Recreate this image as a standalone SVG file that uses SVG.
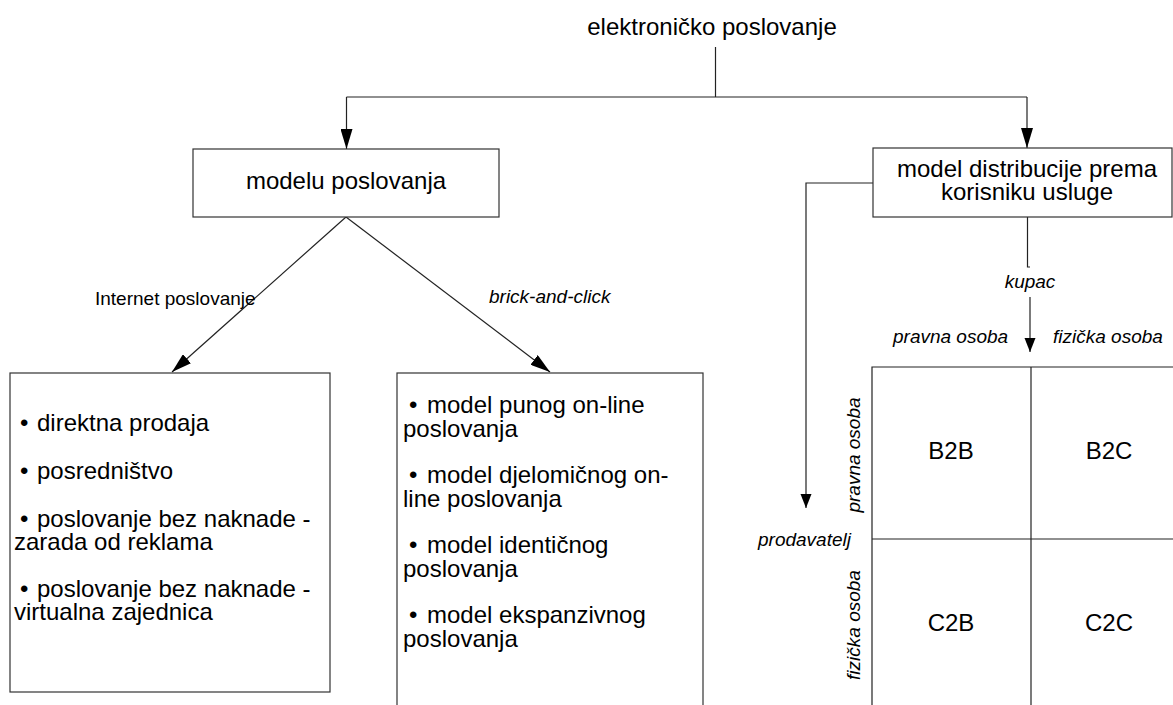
<svg xmlns="http://www.w3.org/2000/svg" width="1173" height="705" viewBox="0 0 1173 705">
  <style>
    text { font-family: "Liberation Sans", Arial, sans-serif; fill: #000; }
    .main { font-size: 24px; }
    .lbl { font-size: 19px; }
    .it { font-size: 19px; font-style: italic; }
    .mid { text-anchor: middle; }
    .box { fill: #fff; stroke: #333; stroke-width: 1.2; }
    .ln { fill: none; stroke: #222; stroke-width: 1.2; }
  </style>
  <defs>
    <marker id="arrow" markerUnits="userSpaceOnUse" markerWidth="20" markerHeight="12" refX="20" refY="6" orient="auto">
      <path d="M0,0 L20,6 L0,12 z" fill="#000"/>
    </marker>
    <marker id="arrowSmall" markerUnits="userSpaceOnUse" markerWidth="14" markerHeight="12" refX="14" refY="6" orient="auto">
      <path d="M0,0.5 L14,6 L0,11.5 z" fill="#000"/>
    </marker>
  </defs>

  <rect width="1173" height="705" fill="#fff"/>

  <!-- connectors -->
  <g id="connectors">
    <path class="ln" d="M715.5,47 V97"/>
    <path class="ln" d="M346.5,97 H1027"/>
    <path class="ln" d="M346.5,97 V149" marker-end="url(#arrow)"/>
    <path class="ln" d="M1027,97 V148" marker-end="url(#arrow)"/>
    <path class="ln" d="M346,217 L172,372" marker-end="url(#arrow)"/>
    <path class="ln" d="M346,217 L550,372" marker-end="url(#arrow)"/>
    <path class="ln" d="M873,183 H806 V508" marker-end="url(#arrowSmall)"/>
    <path class="ln" d="M1027.5,217 V267 H1030"/>
    <path class="ln" d="M1030,297 V352" marker-end="url(#arrowSmall)"/>
    <text class="lbl" x="95" y="305">Internet poslovanje</text>
    <text class="it" x="489" y="303">brick-and-click</text>
    <text class="it mid" x="1030" y="288">kupac</text>
    <text class="it" x="758" y="546">prodavatelj</text>
  </g>

  <!-- root -->
  <g id="node-root">
    <text class="main mid" x="712" y="35">elektroničko poslovanje</text>
  </g>

  <!-- business model -->
  <g id="node-model">
    <rect class="box" x="193" y="149" width="306" height="68"/>
    <text class="main mid" x="346" y="189">modelu poslovanja</text>
  </g>

  <!-- distribution model -->
  <g id="node-distribution">
    <rect class="box" x="873" y="148" width="299" height="69"/>
    <text class="main mid" x="1027" y="177">model distribucije prema</text>
    <text class="main mid" x="1027" y="200">korisniku usluge</text>
  </g>

  <!-- internet business list -->
  <g id="node-internet">
    <rect class="box" x="10" y="373" width="320" height="319"/>
    <text class="main"><tspan x="20" y="431">•</tspan><tspan x="37" y="431">direktna prodaja</tspan></text>
    <text class="main"><tspan x="20" y="479">•</tspan><tspan x="37" y="479">posredništvo</tspan></text>
    <text class="main"><tspan x="20" y="527">•</tspan><tspan x="37" y="527">poslovanje bez naknade -</tspan><tspan x="14" y="550">zarada od reklama</tspan></text>
    <text class="main"><tspan x="20" y="597">•</tspan><tspan x="37" y="597">poslovanje bez naknade -</tspan><tspan x="14" y="620">virtualna zajednica</tspan></text>
  </g>

  <!-- brick-and-click list -->
  <g id="node-brick">
    <rect class="box" x="397" y="373" width="306" height="345"/>
    <text class="main"><tspan x="409" y="413">•</tspan><tspan x="427" y="413">model punog on-line</tspan><tspan x="403" y="437">poslovanja</tspan></text>
    <text class="main"><tspan x="409" y="483">•</tspan><tspan x="427" y="483">model djelomičnog on-</tspan><tspan x="403" y="507">line poslovanja</tspan></text>
    <text class="main"><tspan x="409" y="553">•</tspan><tspan x="427" y="553">model identičnog</tspan><tspan x="403" y="577">poslovanja</tspan></text>
    <text class="main"><tspan x="409" y="623">•</tspan><tspan x="427" y="623">model ekspanzivnog</tspan><tspan x="403" y="647">poslovanja</tspan></text>
  </g>

  <!-- buyer / seller matrix -->
  <g id="node-matrix">
    <path class="ln" d="M872,710 V367 H1180"/>
    <path class="ln" d="M1031,367 V710"/>
    <path class="ln" d="M872,539 H1180"/>
    <text class="it" x="893" y="343">pravna osoba</text>
    <text class="it" x="1053" y="343">fizička osoba</text>
    <text class="it mid" transform="translate(860,455) rotate(-90)">pravna osoba</text>
    <text class="it mid" transform="translate(860,625) rotate(-90)">fizička osoba</text>
    <text class="main mid" x="951" y="459">B2B</text>
    <text class="main mid" x="1109" y="459">B2C</text>
    <text class="main mid" x="951" y="631">C2B</text>
    <text class="main mid" x="1109" y="631">C2C</text>
  </g>
</svg>
